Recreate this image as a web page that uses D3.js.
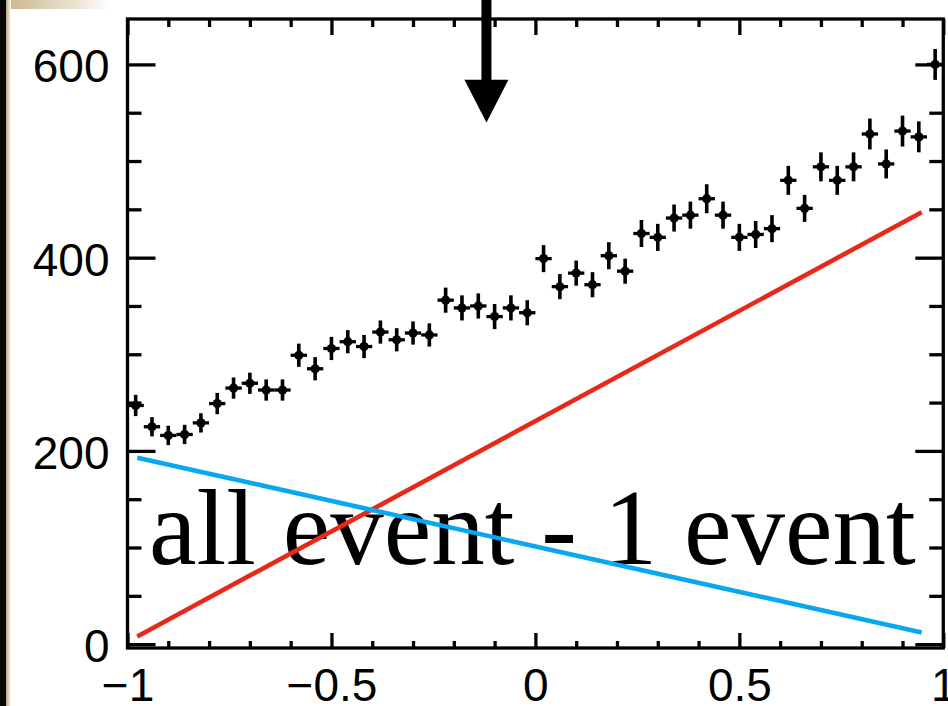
<!DOCTYPE html>
<html>
<head>
<meta charset="utf-8">
<script src="https://cdn.jsdelivr.net/npm/d3@7"></script>
<style>
  html, body { margin: 0; padding: 0; background: #fff; }
  svg { display: block; }
</style>
</head>
<body>
<div id="chart"></div>
<script>
// Angular distribution: binned counts with error bars plus two straight-line components.

const BIN_CENTERS = [
  -0.98, -0.94, -0.90, -0.86, -0.82, -0.78, -0.74, -0.70, -0.66, -0.62,
  -0.58, -0.54, -0.50, -0.46, -0.42, -0.38, -0.34, -0.30, -0.26, -0.22,
  -0.18, -0.14, -0.10, -0.06, -0.02, 0.02, 0.06, 0.10, 0.14, 0.18,
  0.22, 0.26, 0.30, 0.34, 0.38, 0.42, 0.46, 0.50, 0.54, 0.58,
  0.62, 0.66, 0.70, 0.74, 0.78, 0.82, 0.86, 0.90, 0.94, 0.98
];
const COUNTS = [
  247, 225, 216, 217, 229, 249, 265, 270, 263, 263,
  299, 285, 306, 313, 308, 323, 315, 322, 320, 356,
  348, 350, 339, 348, 343, 399, 370, 384, 372, 402,
  386, 425, 421, 441, 444, 461, 444, 421, 424, 430,
  480, 451, 494, 480, 494, 528, 497, 531, 525, 600
];
const ERRORS = [
  11, 10, 10, 10, 10, 11, 11, 11, 11, 11,
  12, 12, 12, 12, 12, 12, 12, 12, 12, 13,
  13, 13, 13, 13, 13, 14, 13, 13, 13, 14,
  13, 14, 14, 14, 14, 15, 14, 14, 14, 14,
  15, 14, 15, 15, 15, 16, 15, 16, 16, 16
];
const BIN_HALF = 0.02;

// straight-line components
const LINE_X = [-0.976, 0.947];
const RED_Y = [8, 447];
const BLUE_Y = [193, 12];

const X_MAJOR = [-1, -0.5, 0, 0.5, 1];
const X_LABELS = ['\u22121', '\u22120.5', '0', '0.5', '1'];
const Y_MAJOR = [0, 200, 400, 600];
const Y_LABELS = ['0', '200', '400', '600'];

// annotation arrow: x position, top of shaft, base of head, tip
const ARROW_X = -0.12;
const ARROW_Y = [680, 584, 540];

const NOTE = 'all event - 1 event';
const NOTE_POS = [-0.947, 83];

const W = 948, H = 706;

const svg = d3.select('#chart').append('svg')
  .attr('width', W)
  .attr('height', H);

// page edge left over from the scan
const defs = svg.append('defs');
const edge = defs.append('linearGradient').attr('id', 'edge').attr('x1', 0).attr('x2', 1);
edge.append('stop').attr('offset', 0).attr('stop-color', '#b9a47c');
edge.append('stop').attr('offset', 1).attr('stop-color', '#ffffff');
const band = defs.append('linearGradient').attr('id', 'band').attr('x1', 0).attr('x2', 1);
band.append('stop').attr('offset', 0).attr('stop-color', '#cdb98f');
band.append('stop').attr('offset', 0.6).attr('stop-color', '#e8dfcc');
band.append('stop').attr('offset', 1).attr('stop-color', '#ffffff');

svg.append('rect').attr('x', 10).attr('y', 0).attr('width', 100).attr('height', 9).attr('fill', 'url(#band)');
svg.append('rect').attr('x', 0).attr('y', 0).attr('width', 6).attr('height', H).attr('fill', '#0a0806');
svg.append('rect').attr('x', 6).attr('y', 0).attr('width', 5).attr('height', H).attr('fill', 'url(#edge)');

const x = d3.scaleLinear().domain([-1, 1]).range([127.5, 943.3]);
const y = d3.scaleLinear().domain([-4, 647]).range([648, 19]);

const x0 = x.range()[0], x1 = x.range()[1];
const yB = y.range()[0], yT = y.range()[1];

const xMinor = d3.range(-10, 11).filter(i => i % 5 !== 0).map(i => i / 10);
const yMinor = d3.range(0, 13).filter(i => i % 4 !== 0).map(i => i * 50);

const AXIS_W = 3.3;
const LABEL_FONT = '"Liberation Sans", Arial, Helvetica, sans-serif';

function styleAxis(sel) {
  sel.select('.domain').remove();
  sel.selectAll('line').attr('stroke', '#000').attr('stroke-width', AXIS_W);
  sel.selectAll('text')
    .attr('fill', '#000')
    .style('font-family', LABEL_FONT)
    .style('font-size', '46px');
}

// bottom
svg.append('g').attr('transform', `translate(0,${yB})`)
  .call(d3.axisBottom(x).tickValues(X_MAJOR).tickSizeInner(-15).tickSizeOuter(0).tickPadding(20)
    .tickFormat((d, i) => X_LABELS[i]))
  .call(styleAxis);
svg.append('g').attr('transform', `translate(0,${yB})`)
  .call(d3.axisBottom(x).tickValues(xMinor).tickSizeInner(-7).tickSizeOuter(0).tickFormat(''))
  .call(styleAxis);

// top
svg.append('g').attr('transform', `translate(0,${yT})`)
  .call(d3.axisTop(x).tickValues(X_MAJOR).tickSizeInner(-16).tickSizeOuter(0).tickFormat(''))
  .call(styleAxis);
svg.append('g').attr('transform', `translate(0,${yT})`)
  .call(d3.axisTop(x).tickValues(xMinor).tickSizeInner(-8).tickSizeOuter(0).tickFormat(''))
  .call(styleAxis);

// left
svg.append('g').attr('transform', `translate(${x0},0)`)
  .call(d3.axisLeft(y).tickValues(Y_MAJOR).tickSizeInner(-28).tickSizeOuter(0).tickPadding(18)
    .tickFormat((d, i) => Y_LABELS[i]))
  .call(styleAxis)
  .selectAll('text').attr('dy', '0.38em');
svg.append('g').attr('transform', `translate(${x0},0)`)
  .call(d3.axisLeft(y).tickValues(yMinor).tickSizeInner(-14).tickSizeOuter(0).tickFormat(''))
  .call(styleAxis);

// right
svg.append('g').attr('transform', `translate(${x1},0)`)
  .call(d3.axisRight(y).tickValues(Y_MAJOR).tickSizeInner(-28).tickSizeOuter(0).tickFormat(''))
  .call(styleAxis);
svg.append('g').attr('transform', `translate(${x1},0)`)
  .call(d3.axisRight(y).tickValues(yMinor).tickSizeInner(-14).tickSizeOuter(0).tickFormat(''))
  .call(styleAxis);

// frame
svg.append('rect')
  .attr('x', x0).attr('y', yT)
  .attr('width', x1 - x0).attr('height', yB - yT)
  .attr('fill', 'none')
  .attr('stroke', '#000')
  .attr('stroke-width', AXIS_W);

// data points with error bars
const pts = svg.append('g').selectAll('g')
  .data(BIN_CENTERS.map((c, i) => ({ c, v: COUNTS[i], e: ERRORS[i] })))
  .join('g');

pts.append('line')
  .attr('x1', d => x(d.c)).attr('x2', d => x(d.c))
  .attr('y1', d => y(d.v - d.e)).attr('y2', d => y(d.v + d.e))
  .attr('stroke', '#000').attr('stroke-width', 3.6);
pts.append('line')
  .attr('x1', d => x(d.c - BIN_HALF)).attr('x2', d => x(d.c + BIN_HALF))
  .attr('y1', d => y(d.v)).attr('y2', d => y(d.v))
  .attr('stroke', '#000').attr('stroke-width', 3.3);
pts.append('circle')
  .attr('cx', d => x(d.c)).attr('cy', d => y(d.v))
  .attr('r', 4.6)
  .attr('fill', '#000');

// annotation text
svg.append('text')
  .attr('x', x(NOTE_POS[0]))
  .attr('y', y(NOTE_POS[1]))
  .style('font-family', '"Liberation Serif", "Times New Roman", Times, serif')
  .style('font-size', '107px')
  .attr('fill', '#000')
  .text(NOTE);

// fitted components
const line = d3.line().x(d => x(d[0])).y(d => y(d[1]));

svg.append('path')
  .datum(LINE_X.map((v, i) => [v, RED_Y[i]]))
  .attr('d', line)
  .attr('fill', 'none')
  .attr('stroke', '#e8291a')
  .attr('stroke-width', 4.6);

svg.append('path')
  .datum(LINE_X.map((v, i) => [v, BLUE_Y[i]]))
  .attr('d', line)
  .attr('fill', 'none')
  .attr('stroke', '#0aa6ef')
  .attr('stroke-width', 4.6);

// arrow
const ax = x(ARROW_X);
svg.append('rect')
  .attr('x', ax - 5).attr('width', 10)
  .attr('y', y(ARROW_Y[0]))
  .attr('height', y(ARROW_Y[1]) - y(ARROW_Y[0]) + 1)
  .attr('fill', '#000');
svg.append('path')
  .attr('d', `M${ax - 22},${y(ARROW_Y[1])}L${ax + 22},${y(ARROW_Y[1])}L${ax},${y(ARROW_Y[2])}Z`)
  .attr('fill', '#000');
</script>
</body>
</html>
